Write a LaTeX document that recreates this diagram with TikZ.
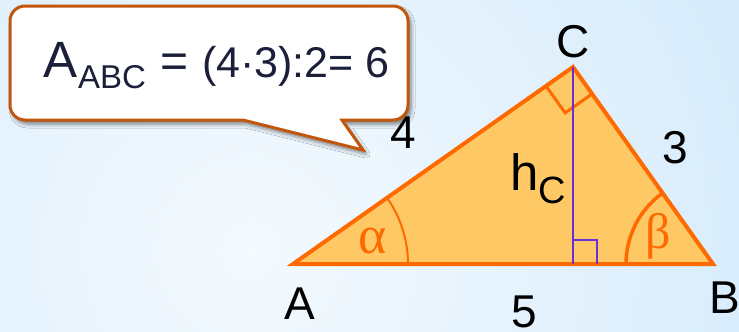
\documentclass[tikz,border=0pt]{standalone}
\usepackage{fontspec}
\setmainfont{Liberation Sans}
\newfontfamily\serifgreek{Liberation Serif}
\usetikzlibrary{calc,shadows.blur}
\definecolor{bgin}{HTML}{F4FAFE}
\definecolor{bgout}{HTML}{BDDFF9}
\definecolor{triFill}{HTML}{FEC865}
\definecolor{triEdge}{HTML}{FF6A00}
\definecolor{altColor}{HTML}{6A30D8}
\definecolor{bubbleEdge}{HTML}{C2560C}
\definecolor{navy}{HTML}{1B1F3A}
\begin{document}
\begin{tikzpicture}[x=1pt,y=-1pt,
  lbl/.style={anchor=base,inner sep=0pt,font=\fontsize{46}{50}\selectfont},
  greek/.style={anchor=base,inner sep=0pt,text=triEdge},
  edgeline/.style={draw=triEdge,line width=4pt,line join=miter},
  bubbletext/.style={anchor=base west,inner sep=0pt,text=navy},
  ]
\useasboundingbox (0,0) rectangle (739,332);
\begin{scope}
\clip (0,0) rectangle (739,332);
\shade[inner color=bgin,outer color=bgout] (250,250) circle (1000);
\end{scope}
% triangle
\coordinate (A) at (293,264);
\coordinate (B) at (713,264);
\coordinate (C) at (573,67);
\coordinate (H) at (573,264);
\fill[triFill] (A) -- (B) -- (C) -- cycle;
% angle arcs
\draw[triEdge,line width=2pt] ($(A)+(115,0)$) arc[start angle=0,end angle=-35.13,radius=115];
\draw[triEdge,line width=3.5pt] ($(B)+(-87,0)$) arc[start angle=180,end angle=234.6,radius=87];
% right angle at C
\coordinate (P1) at ($(C)!33pt!(A)$);
\coordinate (P2) at ($(C)!33pt!(B)$);
\coordinate (P3) at ($(P1)+(P2)-(C)$);
\draw[triEdge,line width=3pt] (P1) -- (P3) -- (P2);
\draw[edgeline] (A) -- (B) -- (C) -- cycle;
% altitude
\draw[altColor,line width=2.8pt] (C) -- (H);
\coordinate (Q1) at (573,240);
\coordinate (Q2) at (597,240);
\coordinate (Q3) at (597,264);
\draw[altColor,line width=2.8pt] (Q1) -- (Q2) -- (Q3);
% labels
\node[lbl] (lA) at (300,319) {A};
\node[lbl] (lB) at (725,313) {B};
\node[lbl] (lC) at (573,57) {C};
\node[lbl] (l5) at (524,327) {5};
\node[lbl] (l3) at (675,163) {3};
\node[lbl] (l4) at (403,148) {4};
\node[anchor=base west,inner sep=0pt,font=\fontsize{51}{55}\selectfont] (lh) at (510,190) {h};
\node[anchor=base west,inner sep=0pt,font=\fontsize{38}{42}\selectfont] (lhc) at (538,203) {C};
\node[greek,font=\serifgreek\fontsize{54}{58}\selectfont] (alpha) at (373,253) {α};
\node[greek,font=\serifgreek\fontsize{50}{54}\selectfont] (beta) at (658,248) {β};
% callout
\draw[bubbleEdge,line width=3pt,fill=white,line join=miter,
  blur shadow={shadow xshift=3pt,shadow yshift=-4pt,shadow blur radius=4pt,shadow opacity=50}]
  (243,120) -- (363,150) -- (342,120) -- (393,120)
  arc[start angle=90,end angle=0,radius=15] -- (408,21)
  arc[start angle=0,end angle=-90,radius=15] -- (25,6)
  arc[start angle=-90,end angle=-180,radius=15] -- (10,105)
  arc[start angle=180,end angle=90,radius=15] -- cycle;
\node[bubbletext,font=\fontsize{51}{55}\selectfont] (fA) at (43,77) {A};
\node[bubbletext,font=\fontsize{33}{36}\selectfont] (fABC) at (78,88) {ABC};
\node[bubbletext,font=\fontsize{48}{52}\selectfont] (feq) at (160,77) {=};
\node[bubbletext,font=\fontsize{43}{47}\selectfont] (fexpr) at (202,77) {(4·3):2= 6};
\end{tikzpicture}
\end{document}
